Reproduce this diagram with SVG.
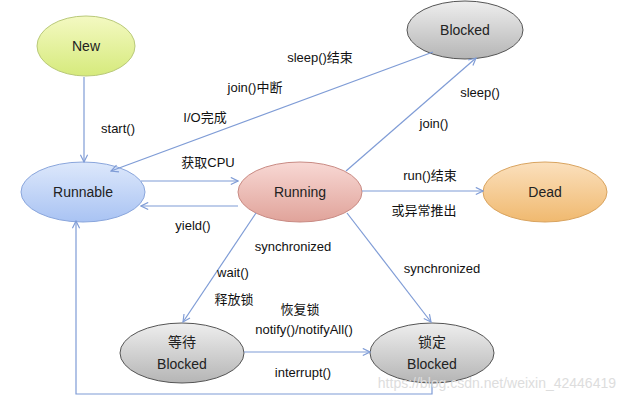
<svg xmlns="http://www.w3.org/2000/svg" width="618" height="401" viewBox="0 0 618 401">
<style>
.n{stroke-width:1}
.t{font-family:"Liberation Sans","Noto Sans CJK SC",sans-serif;font-size:13px;fill:#111;text-anchor:middle}
.nt{font-family:"Liberation Sans","Noto Sans CJK SC",sans-serif;font-size:14px;fill:#222;text-anchor:middle}
.c{stroke:#7f9cd6;stroke-width:1.2;fill:none;marker-end:url(#a)}
</style>
<defs>
<marker id="a" viewBox="0 0 10 10" refX="9" refY="5" markerWidth="9" markerHeight="9" orient="auto" markerUnits="userSpaceOnUse"><path d="M1,1 L9,5 L1,9" fill="none" stroke="#7f9cd6" stroke-width="1.3"/></marker>
<linearGradient id="gN" x1="0" y1="0" x2="0" y2="1"><stop offset="0" stop-color="#f4f9c2"/><stop offset="1" stop-color="#d6ea7c"/></linearGradient>
<linearGradient id="gR" x1="0" y1="0" x2="0" y2="1"><stop offset="0" stop-color="#dde8fb"/><stop offset="1" stop-color="#a9c3f3"/></linearGradient>
<linearGradient id="gU" x1="0" y1="0" x2="0" y2="1"><stop offset="0" stop-color="#f8d8d4"/><stop offset="1" stop-color="#e0a39a"/></linearGradient>
<linearGradient id="gD" x1="0" y1="0" x2="0" y2="1"><stop offset="0" stop-color="#fbe0bd"/><stop offset="1" stop-color="#f0b96f"/></linearGradient>
<linearGradient id="gB" x1="0" y1="0" x2="0" y2="1"><stop offset="0" stop-color="#eeeeee"/><stop offset="1" stop-color="#b5b5b5"/></linearGradient>
</defs>
<g id="New"><ellipse cx="86" cy="46" rx="49" ry="30" fill="url(#gN)" stroke="#b9c97a"/><text class="nt" x="86" y="51">New</text></g>
<g id="Runnable"><ellipse cx="83" cy="192" rx="62" ry="30" fill="url(#gR)" stroke="#8aa6dc"/><text class="nt" x="83" y="197">Runnable</text></g>
<g id="Running"><ellipse cx="300" cy="192" rx="62" ry="30" fill="url(#gU)" stroke="#c98b84"/><text class="nt" x="300" y="197">Running</text></g>
<g id="Dead"><ellipse cx="545" cy="192" rx="62" ry="30" fill="url(#gD)" stroke="#d9a460"/><text class="nt" x="545" y="197">Dead</text></g>
<g id="Blocked"><ellipse cx="465" cy="30" rx="58" ry="29" fill="url(#gB)" stroke="#555"/><text class="nt" x="465" y="35">Blocked</text></g>
<g id="Waiting"><ellipse cx="182" cy="353" rx="62" ry="30" fill="url(#gB)" stroke="#555"/><text class="nt" x="182" y="347">等待</text><text class="nt" x="182" y="369">Blocked</text></g>
<g id="Locked"><ellipse cx="432" cy="353" rx="62" ry="30" fill="url(#gB)" stroke="#555"/><text class="nt" x="432" y="347">锁定</text><text class="nt" x="432" y="369">Blocked</text></g>
<g id="connectors">
<line class="c" x1="84" y1="77" x2="84" y2="162"/>
<line class="c" x1="433" y1="52" x2="111" y2="171"/>
<line class="c" x1="346" y1="171" x2="476" y2="58"/>
<line class="c" x1="141" y1="181" x2="238" y2="181"/>
<line class="c" x1="238" y1="206" x2="141" y2="206"/>
<line class="c" x1="362" y1="191" x2="483" y2="191"/>
<line class="c" x1="256" y1="213" x2="183" y2="322"/>
<line class="c" x1="347" y1="213" x2="431" y2="322"/>
<line class="c" x1="244" y1="352" x2="370" y2="352"/>
<polyline class="c" points="432,383 432,394 76,394 76,221"/>
</g>
<g id="labels">
<text class="t" x="320" y="62">sleep()结束</text>
<text class="t" x="255" y="92">join()中断</text>
<text class="t" x="205" y="122">I/O完成</text>
<text class="t" x="118" y="133">start()</text>
<text class="t" x="480" y="97">sleep()</text>
<text class="t" x="434" y="128">join()</text>
<text class="t" x="208" y="167">获取CPU</text>
<text class="t" x="430" y="180">run()结束</text>
<text class="t" x="424" y="215">或异常推出</text>
<text class="t" x="193" y="230">yield()</text>
<text class="t" x="293" y="251">synchronized</text>
<text class="t" x="233" y="277">wait()</text>
<text class="t" x="234" y="304">释放锁</text>
<text class="t" x="300" y="314">恢复锁</text>
<text class="t" x="304" y="334">notify()/notifyAll()</text>
<text class="t" x="442" y="273">synchronized</text>
<text class="t" x="303" y="377">interrupt()</text>
<text x="616" y="388" style="font-family:'Liberation Sans',sans-serif;font-size:14px;fill:#ddd;text-anchor:end">https://blog.csdn.net/weixin_42446419</text>
</g>
</svg>
